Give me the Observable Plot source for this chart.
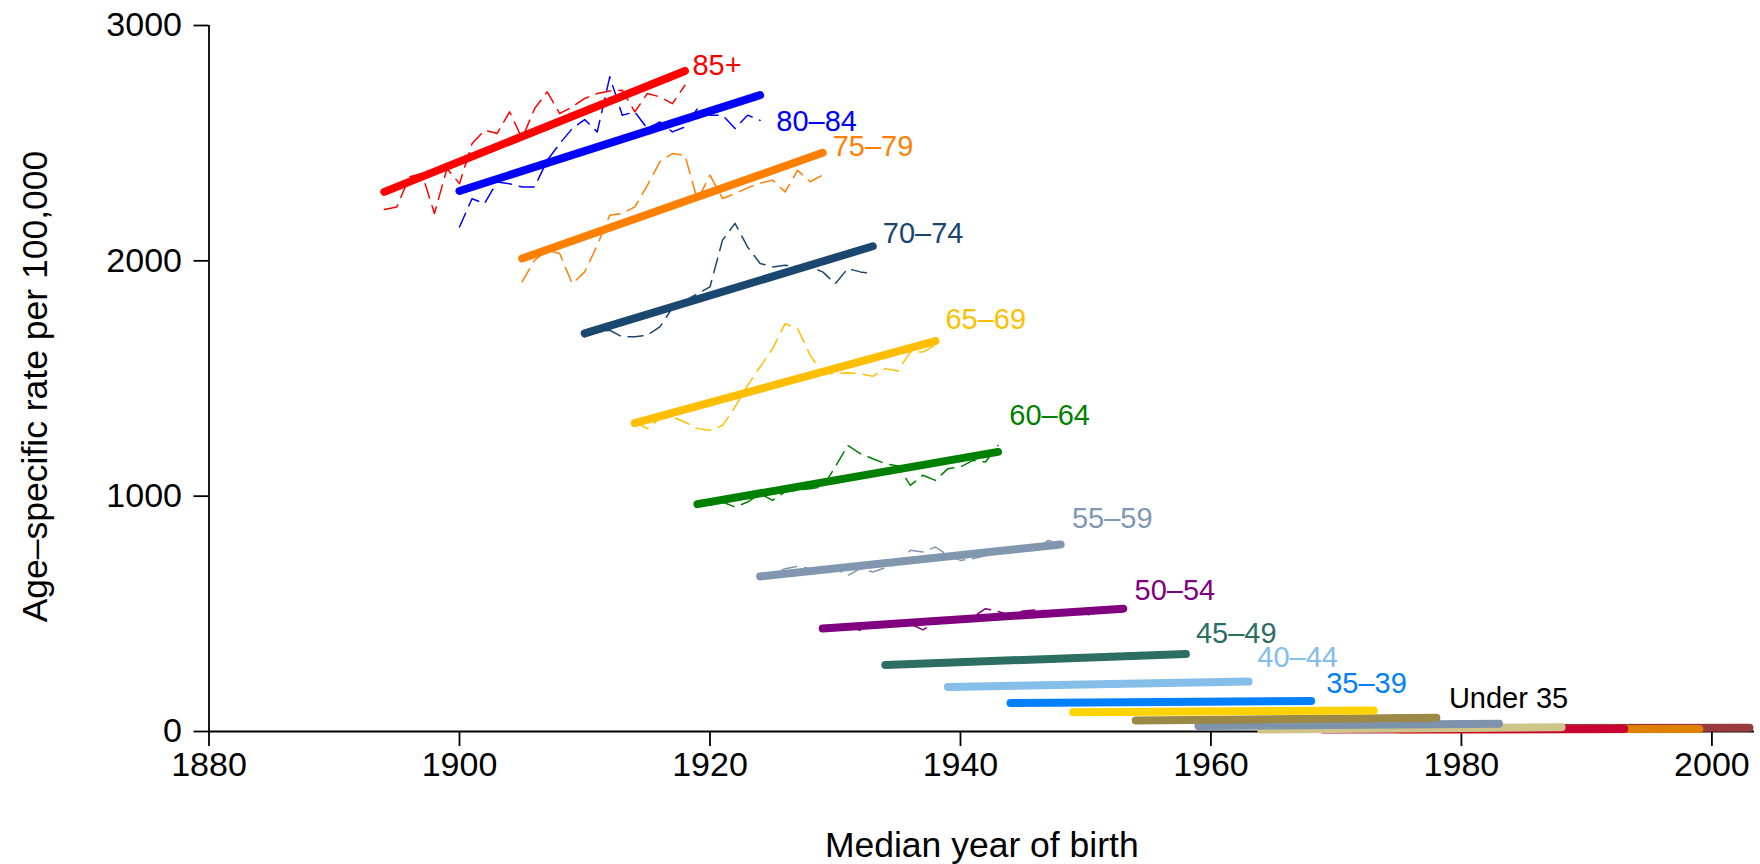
<!DOCTYPE html>
<html><head><meta charset="utf-8">
<script src="https://cdn.jsdelivr.net/npm/d3@7"></script>
<script src="https://cdn.jsdelivr.net/npm/@observablehq/plot@0.6"></script>
<style>html,body{margin:0;padding:0;background:#fff;} svg{display:block}</style>
</head><body><div id="chart"></div>
<script>
const ageGroups = ["85+","80–84","75–79","70–74","65–69","60–64","55–59","50–54","45–49","40–44","35–39","30–34","25–29","20–24","15–19","10–14","5–9","0–4"];
const groupColors = ["#FF0000","#0000FF","#FF7F00","#1A476F","#FFBF00","#008000","#8097AF","#800080","#2D6E63","#85BEE8","#0080FF","#FFD300","#9C8847","#7D93AB","#CFC589","#C80032","#E08000","#993A3E"];
const fitStartYear = [1894,1900,1905,1910,1914,1919,1924,1929,1934,1939,1944,1949,1954,1959,1964,1969,1975,1979];
const fitEndYear   = [1918,1924,1929,1933,1938,1943,1948,1953,1958,1963,1968,1973,1978,1983,1988,1993,1999,2003];
const fitStartRate = [2293,2297,2010,1692,1310,966,659,438,283,189,121,82,47,23,8,8,9,14];
const fitEndRate   = [2807,2704,2459,2062,1659,1188,795,522,329,212,130,89,58,33,18,11,11,16];

// observed (dashed) rates, one value per year starting at fitStartYear
const obs85 = [2218,2229,2357,2371,2201,2392,2328,2498,2555,2541,2633,2520,2647,2718,2626,2654,2690,2711,2722,2725,2633,2711,2697,2668,2746];
const obs80 = [2144,2264,2243,2335,2328,2314,2314,2427,2498,2562,2600,2548,2782,2619,2633,2562,2590,2548,2569,2647,2619,2619,2562,2619,2597];
const obs75 = [1911,2003,2045,2031,1903,1953,2066,2194,2201,2229,2321,2421,2456,2449,2258,2364,2265,2286,2310,2330,2343,2293,2385,2336,2364];
const obs70 = [1677,1698,1705,1677,1677,1684,1719,1800,1830,1860,1889,2088,2159,2059,1989,1974,1981,1976,1974,1953,1903,1967,1953,1946];
const obs65 = [1315,1287,1330,1336,1315,1287,1280,1300,1379,1471,1549,1627,1733,1712,1599,1521,1521,1524,1521,1509,1542,1532,1613,1613,1641];
const obs60 = [968,961,975,954,975,1011,982,1018,1025,1032,1039,1124,1216,1181,1159,1138,1128,1046,1089,1067,1117,1124,1152,1145,1216];
const obs55 = [660,670,692,702,692,688,692,663,692,678,696,713,770,763,784,748,727,734,748,758,758,770,770,812,798];
const obs50 = [439,437,444,430,448,448,447,458,432,465,472,476,486,522,510,493,512,517,512,505,507,493,507,517,522];
const obsSeries = [obs85, obs80, obs75, obs70, obs65, obs60, obs55, obs50];

const labelText = ["85+","80–84","75–79","70–74","65–69","60–64","55–59","50–54","45–49","40–44","35–39"];
const labelYear = [1918.6,1925.3,1929.8,1933.8,1938.8,1943.9,1948.9,1953.9,1958.8,1963.7,1969.2];
const labelRate = [2831,2593,2483,2115,1748,1342,903,598,417,312,202];
const youngLabel = ["Under 35"];
const youngLabelYear = [1979.0];
const youngLabelRate = [140];

const xTicks = [1880,1900,1920,1940,1960,1980,2000];
const yTicks = [0,1000,2000,3000];
const xTitle = "Median year of birth";
const yTitle = "Age–specific rate per 100,000";

const fitData = [];
for (let i = ageGroups.length - 1; i >= 0; i--) {
  fitData.push({group: ageGroups[i], year: fitStartYear[i], rate: fitStartRate[i]});
  fitData.push({group: ageGroups[i], year: fitEndYear[i], rate: fitEndRate[i]});
}
const obsData = obsSeries.flatMap((vals, i) => vals.map((rate, j) => ({group: ageGroups[i], year: fitStartYear[i] + j, rate})));
const labelData = labelText.map((t, i) => ({group: t, year: labelYear[i], rate: labelRate[i]}));
const youngData = youngLabel.map((t, i) => ({label: t, year: youngLabelYear[i], rate: youngLabelRate[i]}));

const xMax = 2003.4;
const font = "'Liberation Sans', Arial, Helvetica, sans-serif";

const chart = Plot.plot({
  width: 1760, height: 864,
  marginLeft: 208.5, marginRight: 6, marginTop: 25, marginBottom: 133,
  x: {domain: [1880, xMax]},
  y: {domain: [0, 3000]},
  color: {domain: ageGroups, range: groupColors},
  style: {fontFamily: font, background: "white", color: "black"},
  marks: [
    Plot.ruleY([0], {x1: 1880, x2: xMax, stroke: "black", strokeWidth: 1.8}),
    Plot.ruleX([1880], {y1: 0, y2: 3000, stroke: "black", strokeWidth: 1.8}),
    Plot.axisY({ticks: yTicks, tickSize: 15, tickPadding: 12, tickFormat: "d", fontSize: 34, label: null, strokeWidth: 1.8}),
    Plot.axisX({ticks: xTicks, tickSize: 15, tickPadding: 5, tickFormat: "d", fontSize: 34, label: null, strokeWidth: 1.8}),
    Plot.line(obsData, {x: "year", y: "rate", z: "group", stroke: "group", strokeWidth: 1.5, strokeDasharray: "15,8"}),
    Plot.line(fitData, {x: "year", y: "rate", z: "group", stroke: "group", strokeWidth: 8, strokeLinecap: "round"}),
    Plot.text(labelData, {x: "year", y: "rate", text: "group", fill: "group", textAnchor: "start", lineAnchor: "middle", fontSize: 29}),
    Plot.text(youngData, {x: "year", y: "rate", text: "label", fill: "black", textAnchor: "start", lineAnchor: "middle", fontSize: 29}),
    Plot.text([xTitle], {text: d => d, frameAnchor: "bottom", dy: 114, textAnchor: "middle", lineAnchor: "middle", fontSize: 35.5, fill: "black"}),
    Plot.text([yTitle], {text: d => d, frameAnchor: "left", dx: -173.5, dy: 8, rotate: -90, textAnchor: "middle", lineAnchor: "middle", fontSize: 35.5, fill: "black"})
  ]
});
document.getElementById("chart").appendChild(chart);
</script></body></html>
